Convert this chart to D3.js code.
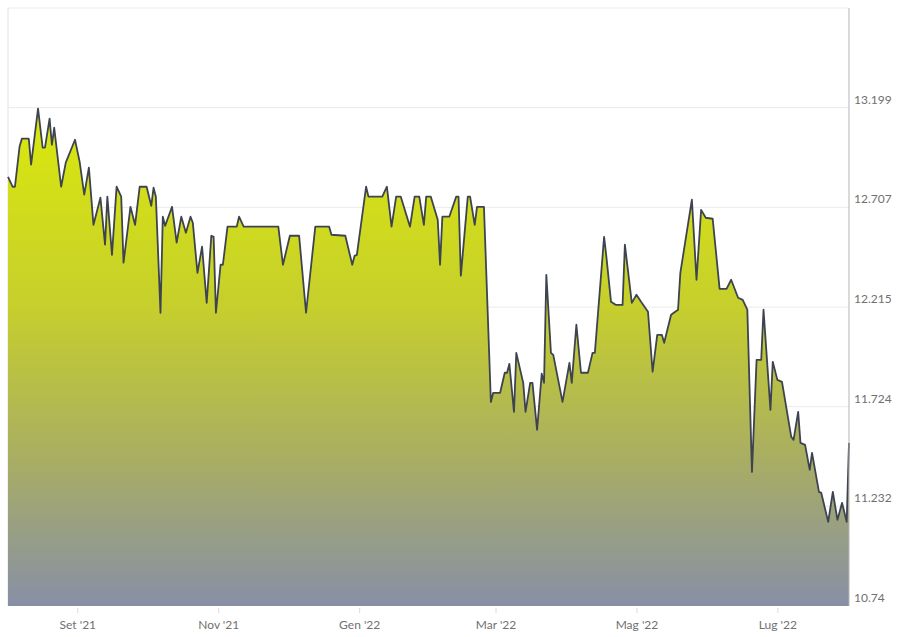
<!DOCTYPE html>
<html>
<head>
<meta charset="utf-8">
<script src="https://cdn.jsdelivr.net/npm/d3@7"></script>
<style>
  body { margin: 0; background: #fff; }
  text { font-family: Lato, "Open Sans", sans-serif; }
</style>
</head>
<body>
<div id="chart"></div>
<script>
const dates = [
  "2021-08-02","2021-08-04","2021-08-05","2021-08-07","2021-08-08","2021-08-11","2021-08-12","2021-08-15",
  "2021-08-17","2021-08-18","2021-08-20","2021-08-21","2021-08-22","2021-08-25","2021-08-27","2021-08-31",
  "2021-09-02","2021-09-04","2021-09-06","2021-09-08","2021-09-11","2021-09-13","2021-09-14","2021-09-16",
  "2021-09-18","2021-09-20","2021-09-21","2021-09-24","2021-09-26","2021-09-28","2021-10-01","2021-10-03",
  "2021-10-04","2021-10-05","2021-10-07","2021-10-08","2021-10-09","2021-10-12","2021-10-14","2021-10-16",
  "2021-10-18","2021-10-20","2021-10-21","2021-10-23","2021-10-25","2021-10-27","2021-10-29","2021-10-30",
  "2021-10-31","2021-11-02","2021-11-03","2021-11-05","2021-11-09","2021-11-10","2021-11-12","2021-11-27",
  "2021-11-29","2021-12-02","2021-12-06","2021-12-09","2021-12-13","2021-12-19","2021-12-20","2021-12-26",
  "2021-12-29","2021-12-30","2021-12-31","2022-01-04","2022-01-05","2022-01-11","2022-01-13","2022-01-15",
  "2022-01-17","2022-01-19","2022-01-23","2022-01-25","2022-01-27","2022-01-29","2022-01-30","2022-02-01",
  "2022-02-04","2022-02-05","2022-02-06","2022-02-09","2022-02-12","2022-02-13","2022-02-14","2022-02-17",
  "2022-02-18","2022-02-20","2022-02-21","2022-02-24","2022-02-27","2022-02-28","2022-03-03","2022-03-05",
  "2022-03-06","2022-03-07","2022-03-09","2022-03-10","2022-03-13","2022-03-14","2022-03-16","2022-03-17",
  "2022-03-19","2022-03-21","2022-03-22","2022-03-23","2022-03-25","2022-03-26","2022-03-30","2022-04-02",
  "2022-04-03","2022-04-05","2022-04-07","2022-04-10","2022-04-12","2022-04-13","2022-04-17","2022-04-18",
  "2022-04-20","2022-04-22","2022-04-25","2022-04-26","2022-04-29","2022-05-01","2022-05-03","2022-05-06",
  "2022-05-08","2022-05-10","2022-05-12","2022-05-13","2022-05-16","2022-05-19","2022-05-20","2022-05-25",
  "2022-05-27","2022-05-29","2022-05-31","2022-06-03","2022-06-06","2022-06-09","2022-06-11","2022-06-14",
  "2022-06-16","2022-06-18","2022-06-20","2022-06-22","2022-06-24","2022-06-25","2022-06-28","2022-06-29",
  "2022-07-01","2022-07-03","2022-07-07","2022-07-08","2022-07-10","2022-07-11","2022-07-13","2022-07-15",
  "2022-07-16","2022-07-19","2022-07-20","2022-07-23","2022-07-25","2022-07-27","2022-07-29","2022-07-31",
  "2022-08-01"
]

const values = [
  12.858,12.809,12.809,13.007,13.046,13.046,12.918,13.194,
  13.002,13.002,13.145,13.016,13.100,12.809,12.928,13.041,
  12.933,12.770,12.903,12.621,12.755,12.523,12.760,12.473,
  12.809,12.760,12.434,12.710,12.621,12.809,12.809,12.715,
  12.804,12.760,12.187,12.661,12.616,12.710,12.533,12.661,
  12.582,12.661,12.631,12.384,12.513,12.236,12.567,12.562,
  12.187,12.424,12.424,12.612,12.612,12.661,12.612,12.612,
  12.424,12.567,12.567,12.187,12.612,12.612,12.572,12.567,
  12.424,12.468,12.473,12.809,12.760,12.760,12.809,12.612,
  12.760,12.760,12.612,12.760,12.760,12.621,12.760,12.760,
  12.646,12.424,12.661,12.661,12.760,12.760,12.370,12.760,
  12.760,12.621,12.710,12.710,11.747,11.792,11.792,11.891,
  11.891,11.935,11.698,11.989,11.841,11.698,11.841,11.841,
  11.609,11.886,11.841,12.374,11.989,11.979,11.747,11.940,
  11.841,12.128,11.891,11.891,11.989,11.989,12.562,12.463,
  12.241,12.226,12.226,12.523,12.236,12.276,12.241,12.192,
  11.896,12.078,12.078,12.039,12.177,12.202,12.384,12.745,
  12.350,12.695,12.656,12.651,12.305,12.305,12.350,12.261,
  12.251,12.202,11.402,11.955,11.955,12.202,11.708,11.945,
  11.856,11.846,11.575,11.560,11.698,11.545,11.535,11.412,
  11.496,11.303,11.298,11.155,11.303,11.165,11.249,11.155,
  11.545
]

const yTicks = [10.74, 11.232, 11.724, 12.215, 12.707, 13.199]
const yMax = 13.691

const xTicks = ["2021-09-01","2021-11-01","2022-01-01","2022-03-01","2022-05-01","2022-07-01"]
const xTickLabels = ["Set '21","Nov '21","Gen '22","Mar '22","Mag '22","Lug '22"]

const width = 901, height = 637
const plot = {left: 8, right: 849, top: 8, bottom: 606}

const parse = d3.utcParse("%Y-%m-%d")
const data = dates.map((d, i) => ({date: parse(d), value: values[i]}))

const x = d3.scaleUtc()
  .domain(d3.extent(data, d => d.date))
  .range([plot.left, plot.right])

const y = d3.scaleLinear()
  .domain([yTicks[0], yMax])
  .range([plot.bottom, plot.top])

const svg = d3.select("#chart").append("svg")
  .attr("width", width)
  .attr("height", height)

const grad = svg.append("defs").append("linearGradient")
  .attr("id", "fillGrad")
  .attr("gradientUnits", "userSpaceOnUse")
  .attr("x1", 0).attr("x2", 0)
  .attr("y1", y(13.199)).attr("y2", plot.bottom)
grad.selectAll("stop")
  .data([[0, "#dbe90c"], [0.4, "#c6cf2c"], [0.7, "#a9ae62"], [1, "#878fa5"]])
  .join("stop")
    .attr("offset", d => d[0])
    .attr("stop-color", d => d[1])

// frame
svg.append("line")
  .attr("x1", plot.left).attr("x2", plot.right)
  .attr("y1", plot.top).attr("y2", plot.top)
  .attr("stroke", "#ececec")
svg.append("line")
  .attr("x1", plot.left).attr("x2", plot.left)
  .attr("y1", plot.top).attr("y2", plot.bottom)
  .attr("stroke", "#e2e2e2")

// gridlines
svg.append("g")
  .selectAll("line")
  .data(yTicks.slice(1))
  .join("line")
    .attr("x1", plot.left).attr("x2", plot.right)
    .attr("y1", d => y(d)).attr("y2", d => y(d))
    .attr("stroke", "#ebebeb")

const area = d3.area()
  .x(d => x(d.date))
  .y0(plot.bottom)
  .y1(d => y(d.value))

const line = d3.line()
  .x(d => x(d.date))
  .y(d => y(d.value))

svg.append("path")
  .datum(data)
  .attr("fill", "url(#fillGrad)")
  .attr("d", area)

svg.append("path")
  .datum(data)
  .attr("fill", "none")
  .attr("stroke", "#3d4450")
  .attr("stroke-width", 1.8)
  .attr("stroke-linejoin", "round")
  .attr("d", line)

// right axis line
svg.append("line")
  .attr("x1", plot.right).attr("x2", plot.right)
  .attr("y1", plot.top).attr("y2", plot.bottom)
  .attr("stroke", "#b5b5b5")

// y labels
svg.append("g")
  .selectAll("text")
  .data(yTicks)
  .join("text")
    .attr("x", plot.right + 5)
    .attr("y", d => y(d) - 4)
    .attr("font-size", 12)
    .attr("fill", "#707070")
    .text(d => d)

// x axis
const xAxis = d3.axisBottom(x)
  .tickValues(xTicks.map(parse))
  .tickFormat((d, i) => xTickLabels[i])
  .tickSize(5)
  .tickPadding(7)

const gx = svg.append("g")
  .attr("transform", `translate(0, ${plot.bottom + 2})`)
  .call(xAxis)
gx.select(".domain").remove()
gx.selectAll(".tick line").attr("stroke", "#dadada")
gx.selectAll(".tick text")
  .attr("font-size", 12)
  .attr("fill", "#707070")
  .style("font-family", "Lato, 'Open Sans', sans-serif")
</script>
</body>
</html>
